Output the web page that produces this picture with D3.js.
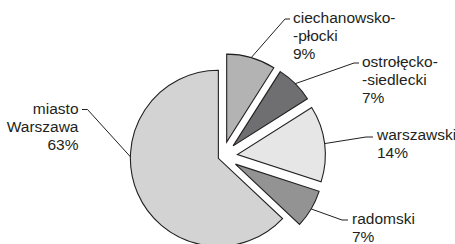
<!DOCTYPE html>
<html>
<head>
<meta charset="utf-8">
<script src="https://cdn.jsdelivr.net/npm/d3@7"></script>
<style>
  body { margin: 0; background: #fff; }
  svg text { font-family: "Liberation Sans", Arial, Helvetica, sans-serif; font-size: 15.5px; fill: #231f20; }
</style>
</head>
<body>
<svg id="chart" width="455" height="244"></svg>
<script>
// data: slices clockwise from 12 o'clock
const regions = ["ciechanowsko-płocki", "ostrołęcko-siedlecki", "warszawski", "radomski", "miasto Warszawa"];
const labelLines = [["ciechanowsko-", "-płocki"], ["ostrołęcko-", "-siedlecki"], ["warszawski"], ["radomski"], ["miasto", "Warszawa"]];
const shares = [9, 7, 14, 7, 63];

// look
const FILLS = ["#b3b3b3", "#6f6f71", "#e5e6e5", "#939394", "#d3d3d4"];
const STROKE = "#231f20";
const CX = 222.5, CY = 156.5, R = 88;
const EXPLODE = [15, 15, 15, 15, 4.5];
const LINE_H = 18;

// label placement: where the leader leaves the slice (deg, clockwise from top),
// the knee, the end of the short horizontal and the text start
const labelPos = [
  { ang: null, knee: [285, 19], end: [290, 19], tx: 293, ty: 22.5, anchor: "start" },
  { ang: null, knee: [354, 63], end: [359, 63], tx: 362, ty: 67, anchor: "start" },
  { ang: null, knee: [366, 137], end: [373, 137], tx: 377, ty: 140, anchor: "start" },
  { ang: null, knee: [342, 220], end: [348, 220], tx: 352, ty: 223.5, anchor: "start" },
  { ang: 271, knee: [87.5, 109.5], end: [82, 109.5], tx: 78.5, ty: 113.5, anchor: "end" }
];

const svg = d3.select("#chart");

const pie = d3.pie().sort(null).value(d => d)(shares);
const arc = d3.arc().innerRadius(0).outerRadius(R);

function offset(d, i) {
  const mid = (d.startAngle + d.endAngle) / 2;
  return [Math.sin(mid) * EXPLODE[i], -Math.cos(mid) * EXPLODE[i]];
}

const g = svg.append("g").attr("transform", `translate(${CX},${CY})`);

g.selectAll("path.slice")
  .data(pie)
  .enter()
  .append("path")
  .attr("class", "slice")
  .attr("transform", (d, i) => {
    const o = offset(d, i);
    return `translate(${o[0]},${o[1]})`;
  })
  .attr("d", arc)
  .attr("fill", (d, i) => FILLS[i])
  .attr("stroke", STROKE)
  .attr("stroke-width", 1.1)
  .attr("stroke-linejoin", "miter");

// leaders
svg.selectAll("polyline.leader")
  .data(pie)
  .enter()
  .append("polyline")
  .attr("class", "leader")
  .attr("points", (d, i) => {
    const o = offset(d, i);
    const p = labelPos[i];
    const a = p.ang == null ? (d.startAngle + d.endAngle) / 2 : p.ang * Math.PI / 180;
    const sx = CX + o[0] + Math.sin(a) * R;
    const sy = CY + o[1] - Math.cos(a) * R;
    return [[sx, sy], p.knee, p.end].map(q => q.join(",")).join(" ");
  })
  .attr("fill", "none")
  .attr("stroke", STROKE)
  .attr("stroke-width", 1);

// labels
const labels = svg.selectAll("text.label")
  .data(pie)
  .enter()
  .append("text")
  .attr("class", "label")
  .attr("x", (d, i) => labelPos[i].tx)
  .attr("y", (d, i) => labelPos[i].ty)
  .attr("text-anchor", (d, i) => labelPos[i].anchor);

labels.selectAll("tspan")
  .data((d, i) => labelLines[i].concat([shares[i] + "%"]).map(t => ({ t: t, x: labelPos[i].tx })))
  .enter()
  .append("tspan")
  .attr("x", d => d.x)
  .attr("dy", (d, j) => j === 0 ? 0 : LINE_H)
  .text(d => d.t);
</script>
</body>
</html>
